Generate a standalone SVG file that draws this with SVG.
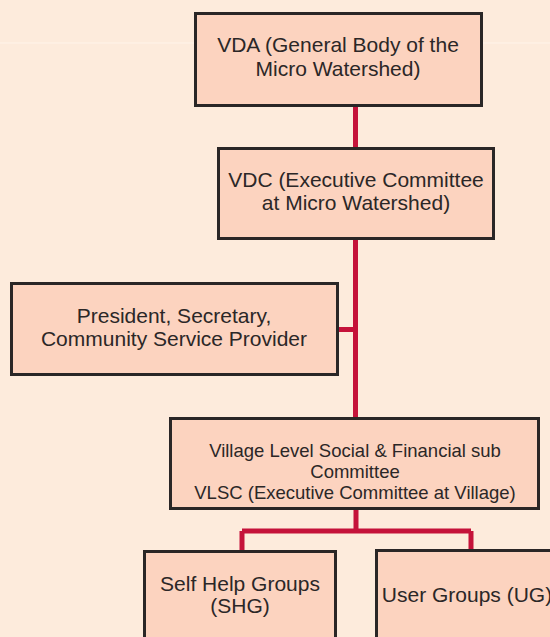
<svg xmlns="http://www.w3.org/2000/svg" width="550" height="637" viewBox="0 0 550 637">
<style>
.box{fill:#fcd3bf;stroke:#2a2626;stroke-width:3}
.t{font-family:"Liberation Sans",Arial,sans-serif;font-size:21px;fill:#2b2727;text-anchor:middle}
.s{font-size:18.5px}
.c{stroke:#c5123a;stroke-width:5;fill:none}
</style>
<rect width="550" height="637" fill="#fdebdc"/>
<line x1="0" y1="43" x2="550" y2="43" stroke="#fff4ea" stroke-width="1"/>
<g id="connectors">
<path class="c" d="M355.5 106V148M355.5 239V418M338 329.5H355.5"/>
<path class="c" d="M356 509V531M242 531H471M242 531V551M471 531V550"/>
</g>
<g id="vda">
<rect class="box" x="195.5" y="13.5" width="286" height="92"/>
<text class="t" x="338" y="52">VDA (General Body of the</text>
<text class="t" x="338" y="76">Micro Watershed)</text>
</g>
<g id="vdc">
<rect class="box" x="218.5" y="148.5" width="275" height="90"/>
<text class="t" x="356" y="187">VDC (Executive Committee</text>
<text class="t" x="356" y="210">at Micro Watershed)</text>
</g>
<g id="president">
<rect class="box" x="11.5" y="283.5" width="326" height="91"/>
<text class="t" x="174" y="323">President, Secretary,</text>
<text class="t" x="174" y="346">Community Service Provider</text>
</g>
<g id="vlsc">
<rect class="box" x="170.5" y="418.5" width="368" height="90"/>
<text class="t s" x="355" y="457">Village Level Social &amp; Financial sub</text>
<text class="t s" x="355" y="478">Committee</text>
<text class="t s" x="355" y="499">VLSC (Executive Committee at Village)</text>
</g>
<g id="shg">
<rect class="box" x="144.5" y="551.5" width="191" height="100"/>
<text class="t" x="240" y="591">Self Help Groups</text>
<text class="t" x="240" y="613">(SHG)</text>
</g>
<g id="ug">
<rect class="box" x="376.5" y="550.5" width="182" height="100"/>
<text class="t" x="467" y="602">User Groups (UG)</text>
</g>
</svg>
